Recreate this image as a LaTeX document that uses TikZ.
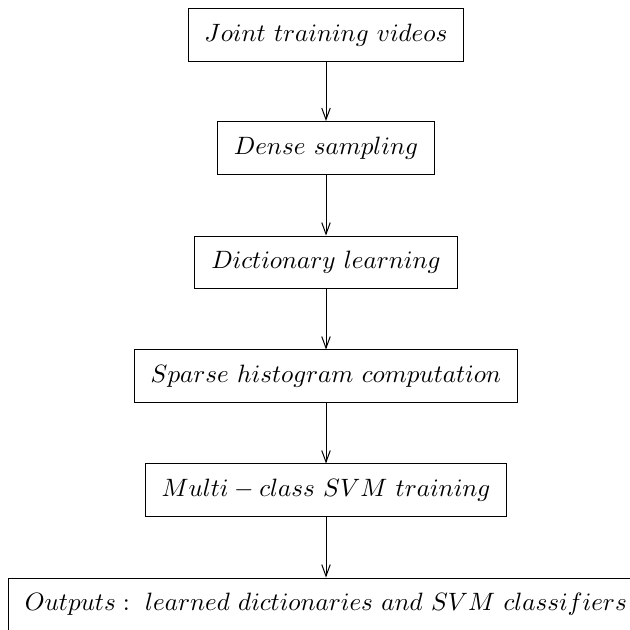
\documentclass[tikz,border=0pt]{standalone}
\usepackage{tikz}
\usepackage{amsmath}
\usepackage{amssymb}
\usetikzlibrary{arrows.meta}

\begin{document}
\begin{tikzpicture}[auto, thin,
   box_style/.style={rectangle,draw=black,inner xsep=6.5pt,minimum height=21pt},
   edge_style/.style={draw=black, thin, -{Straight Barb[length=4.6pt,width=3.4pt]}}]

    \useasboundingbox (0,0.012) rectangle (8.808,-8.810);

    \node[box_style] (v1) at (4.565,-0.476) {$Joint\ training\ videos$};
    \node[box_style] (v2) at (4.565,-2.058) {$Dense\ sampling$};
    \node[box_style] (v3) at (4.565,-3.662) {$Dictionary\ learning$};
    \node[box_style] (v4) at (4.565,-5.258) {$Sparse\ histogram\ computation$};
    \node[box_style] (v5) at (4.565,-6.854) {$Multi-class\ SVM\ training$};
    \node[box_style] (v6) at (4.565,-8.451) {$Outputs:\ learned\ dictionaries\ and\ SVM\ classifiers$};
    \draw[edge_style]  (v1) edge (v2);
    \draw[edge_style]  (v2) edge (v3);
    \draw[edge_style]  (v3) edge (v4);
    \draw[edge_style]  (v4) edge (v5);
    \draw[edge_style]  (v5) edge (v6);
    \end{tikzpicture}
\end{document}
